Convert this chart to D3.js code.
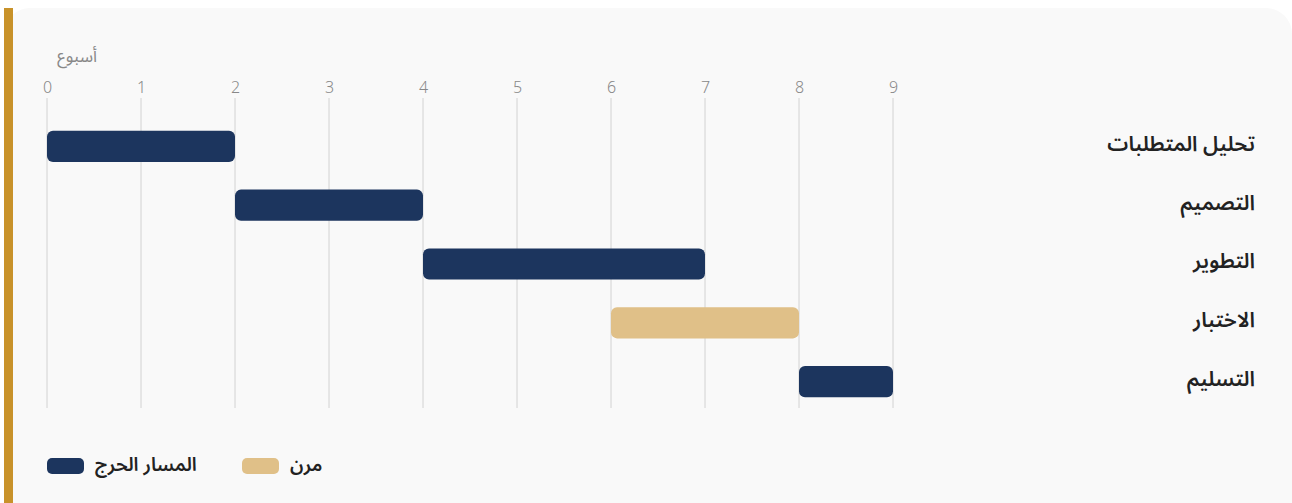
<!DOCTYPE html>
<html lang="ar">
<head>
<meta charset="utf-8">
<script src="https://cdn.jsdelivr.net/npm/d3@7"></script>
<style>
  html, body { margin: 0; padding: 0; background: #ffffff; overflow: hidden; }
  body { width: 1292px; height: 503px; }
  text { font-family: "Noto Sans Arabic", "Noto Sans", "DejaVu Sans", sans-serif; }
</style>
</head>
<body>
<svg id="chart" width="1292" height="503"></svg>
<script>
// Project phases and their week spans
const tasks = ["تحليل المتطلبات", "التصميم", "التطوير", "الاختبار", "التسليم"];
const startWeek = [0, 2, 4, 6, 8];
const endWeek = [2, 4, 7, 8, 9];
const pathType = ["critical", "critical", "critical", "flex", "critical"];
const weekTicks = [0, 1, 2, 3, 4, 5, 6, 7, 8, 9];
const legendKeys = ["critical", "flex"];
const legendLabels = ["المسار الحرج", "مرن"];
const axisTitle = "أسبوع";

const colors = { critical: "#1c355e", flex: "#e0c088" };

const svg = d3.select("#chart");

// Card with a gold accent on its leading edge
svg.append("rect")
  .attr("x", 4).attr("y", 8)
  .attr("width", 1288).attr("height", 520)
  .attr("rx", 26).attr("ry", 26)
  .attr("fill", "#f9f9f9");
svg.append("rect")
  .attr("x", 4).attr("y", 8)
  .attr("width", 9).attr("height", 500)
  .attr("fill", "#c8922a");

const x = d3.scaleLinear().domain([0, 9]).range([47, 893]);
const y = d3.scaleBand().domain(tasks).range([117, 411]).paddingInner(0.47).paddingOuter(0.235);

// Vertical grid
svg.append("g")
  .selectAll("line")
  .data(weekTicks)
  .join("line")
  .attr("x1", d => x(d)).attr("x2", d => x(d))
  .attr("y1", 98).attr("y2", 408)
  .attr("stroke", "#d2d2d2").attr("stroke-width", 1);

// Top axis labels
const axis = d3.axisTop(x).tickValues(weekTicks).tickSize(0).tickPadding(0);
const gAxis = svg.append("g").attr("transform", "translate(0,93)").call(axis);
gAxis.select(".domain").remove();
gAxis.selectAll("text")
  .attr("fill", "#888888")
  .attr("font-size", 16)
  .style("font-family", "'Noto Sans', sans-serif")
  .style("font-weight", 300);

svg.append("text")
  .attr("x", 97).attr("y", 62)
  .attr("text-anchor", "end")
  .attr("fill", "#888888")
  .attr("font-size", 17)
  .text(axisTitle);

// Bars
svg.append("g")
  .selectAll("rect")
  .data(tasks)
  .join("rect")
  .attr("x", (d, i) => x(startWeek[i]))
  .attr("y", d => y(d))
  .attr("width", (d, i) => x(endWeek[i]) - x(startWeek[i]))
  .attr("height", y.bandwidth())
  .attr("rx", 6).attr("ry", 6)
  .attr("fill", (d, i) => colors[pathType[i]]);

// Task names, right aligned
svg.append("g")
  .selectAll("text")
  .data(tasks)
  .join("text")
  .attr("x", 1255)
  .attr("y", d => y(d) + y.bandwidth() / 2 - 3)
  .attr("dy", "0.35em")
  .attr("text-anchor", "end")
  .attr("fill", "#222222")
  .attr("font-size", 21)
  .attr("font-weight", 600)
  .text(d => d);

// Legend
const legendX = [47, 242];
const lg = svg.append("g");
legendKeys.forEach((k, i) => {
  lg.append("rect")
    .attr("x", legendX[i]).attr("y", 458)
    .attr("width", 37).attr("height", 16)
    .attr("rx", 5).attr("ry", 5)
    .attr("fill", colors[k]);
  lg.append("text")
    .attr("x", legendX[i] + 48).attr("y", 464)
    .attr("dy", "0.35em")
    .attr("text-anchor", "start")
    .attr("fill", "#222222")
    .attr("font-size", 19)
    .attr("font-weight", 600)
    .text(legendLabels[i]);
});
</script>
</body>
</html>
